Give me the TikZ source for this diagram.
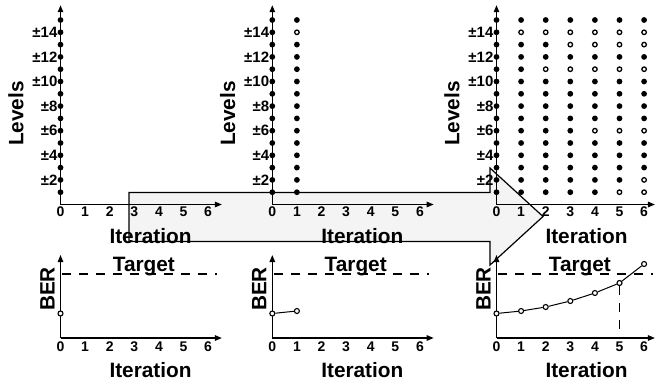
\documentclass[tikz,border=0pt]{standalone}
\usepackage{fontspec}
\setmainfont{Liberation Sans}
\usetikzlibrary{arrows.meta}
\tikzset{
  axis/.style={line width=1.3pt, -{Triangle[length=7pt,width=5.5pt]}},
  dot/.style={circle, fill, inner sep=0pt, minimum size=5.8pt},
  hole/.style={circle, draw, fill=white, line width=1.3pt, inner sep=0pt, minimum size=4.5pt},
  berpt/.style={circle, draw, fill=white, line width=1.1pt, inner sep=0pt, minimum size=5pt},
  tick/.style={font=\fontsize{14}{16}\selectfont\bfseries, inner sep=0pt},
  lvl/.style={font=\fontsize{15}{17}\selectfont\bfseries, anchor=east, inner sep=0pt},
  axlabel/.style={font=\fontsize{20.8}{23}\selectfont\bfseries, inner sep=0pt},
  target/.style={dash pattern=on 9pt off 8pt, line width=1.2pt}
}
\begin{document}
\begin{tikzpicture}[x=1pt,y=1pt]
\useasboundingbox (0,0) rectangle (655,384);
% big arrow behind the panels
\draw[line width=1.2pt, fill=gray!9] (129,191.5) -- (490,191.5) -- (490,216) -- (543,167.5) -- (490,119) -- (490,142.5) -- (129,142.5) -- cycle;

% levels panels
\foreach \ox/\p/\xl in {60.5/la/6.56, 272.3/lb/6.56, 496.5/lc/6.44} {
  \begin{scope}[shift={(\ox,179.5)}, x=24.6pt, y=12.3pt]
    \coordinate (\p-o) at (0,0);
    \coordinate (\p-top) at (0,16.2);
    \coordinate (\p-end) at (\xl,0);
    \draw[axis] (\p-o) -- (\p-top);
    \draw[axis] (\p-o) -- (\p-end);
    \foreach \l in {1,...,15} \node[dot] (\p-0-\l) at (0,\l) {};
    \foreach \l in {2,4,...,14} \node[lvl] (\p-lab\l) at (-0.12,\l) {±\l};
    \foreach \i in {0,...,6} \node[tick] (\p-t\i) at (\i,-0.61) {\i};
    \node[axlabel, rotate=90] (\p-ylab) at (-1.81,7.4) {Levels};
    \node[axlabel] (\p-xlab) at (3.66,-2.56) {Iteration};
  \end{scope}
}

% dots after one iteration
\begin{scope}[shift={(272.3,179.5)}, x=24.6pt, y=12.3pt]
  \foreach \l in {1,...,13,15} \node[dot] (lb-1-\l) at (1,\l) {};
  \node[hole] (lb-1-14) at (1,14) {};
\end{scope}

% dots after six iterations
\begin{scope}[shift={(496.5,179.5)}, x=24.6pt, y=12.3pt]
  \foreach \c/\full/\open in {1/{1,...,13,15}/{14},
                              2/{1,...,10,12,13,15}/{11,14},
                              3/{1,...,10,12,15}/{11,13,14},
                              4/{1,...,5,7,8,9,10,12,15}/{6,11,13,14},
                              5/{2,3,4,5,7,8,9,10,12,15}/{1,6,11,13,14},
                              6/{3,4,5,7,8,9,10,12,15}/{1,2,6,11,13,14}} {
    \foreach \l in \full \node[dot] (lc-\c-\l) at (\c,\l) {};
    \foreach \l in \open \node[hole] (lc-\c-\l) at (\c,\l) {};
  }
\end{scope}

% BER panels
\foreach \ox/\p/\xl in {60.5/ba/6.56, 272.3/bb/6.56, 496.5/bc/6.44} {
  \begin{scope}[shift={(\ox,46)}, x=24.6pt, y=1pt]
    \coordinate (\p-o) at (0,0);
    \coordinate (\p-top) at (0,83);
    \coordinate (\p-end) at (\xl,0);
    \coordinate (\p-tl) at (0.05,64);
    \coordinate (\p-tr) at (6.35,64);
    \draw[axis] (\p-o) -- (\p-top);
    \draw[axis] (\p-o) -- (\p-end);
    \draw[target] (\p-tl) -- (\p-tr);
    \node[axlabel, anchor=base] (\p-tgt) at (3.39,66.5) {Target};
    \foreach \i in {0,...,6} \node[tick] (\p-t\i) at (\i,-9) {\i};
    \node[axlabel, rotate=90] (\p-ylab) at (-0.53,49) {BER};
    \node[axlabel] (\p-xlab) at (3.66,-32) {Iteration};
  \end{scope}
}

\begin{scope}[shift={(60.5,46)}, x=24.6pt, y=1pt]
  \node[berpt] (ba-0) at (0,24.5) {};
\end{scope}

\begin{scope}[shift={(272.3,46)}, x=24.6pt, y=1pt]
  \node[berpt] (bb-0) at (0,24.5) {};
  \node[berpt] (bb-1) at (1,27) {};
  \draw[line width=1pt] (bb-0) -- (bb-1);
\end{scope}

\begin{scope}[shift={(496.5,46)}, x=24.6pt, y=1pt]
  \foreach \i/\v in {0/24.5, 1/27, 2/31, 3/37, 4/45, 5/55, 6/74}
    \node[berpt] (bc-\i) at (\i,\v) {};
  \foreach \i [count=\j from 1] in {0,...,5} \draw[line width=1pt] (bc-\i) -- (bc-\j);
  \coordinate (bc-x5) at (5,0);
  \draw[target] (bc-5) -- (bc-x5);
\end{scope}
\end{tikzpicture}
\end{document}
